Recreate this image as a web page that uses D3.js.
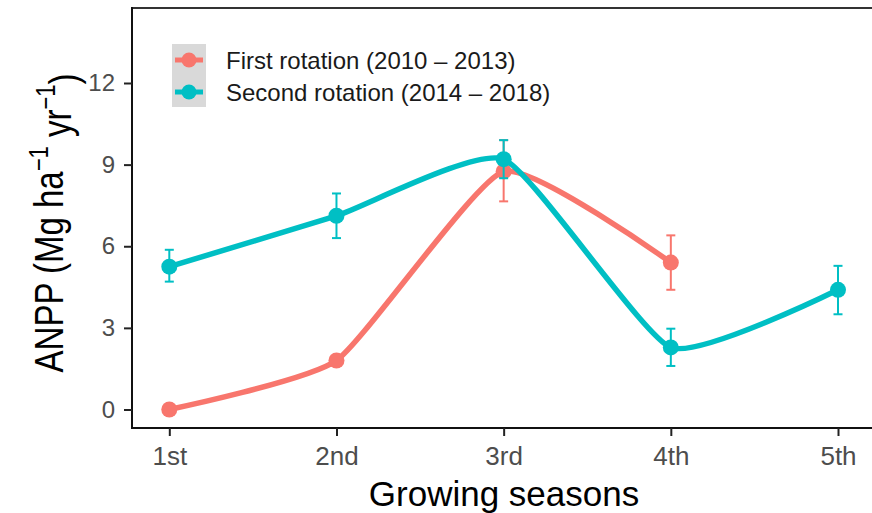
<!DOCTYPE html>
<html>
<head>
<meta charset="utf-8">
<script src="https://cdn.jsdelivr.net/npm/d3@7"></script>
<style>
  body { margin: 0; background: #ffffff; }
  svg { font-family: "Liberation Sans", Arial, sans-serif; }
</style>
</head>
<body>
<div id="chart"></div>
<script>
// the data
const seasons = ["1st", "2nd", "3rd", "4th", "5th"];

const firstMean = [0, 1.8, 8.75, 5.4];
const firstLo   = [0, 1.65, 7.65, 4.4];
const firstHi   = [0, 1.95, 9.9, 6.4];

const secondMean = [5.25, 7.12, 9.2, 2.28, 4.4];
const secondLo   = [4.7, 6.3, 8.5, 1.6, 3.5];
const secondHi   = [5.87, 7.94, 9.9, 2.97, 5.28];

const legendLabels = ["First rotation (2010 \u2013 2013)", "Second rotation (2014 \u2013 2018)"];
const colours = ["#F8766D", "#00BFC4"];

const W = 872, H = 513;

const svg = d3.select("#chart").append("svg")
              .attr("width", W)
              .attr("height", H);

const x = d3.scaleLinear().domain([1, 5]).range([169.3, 838]);
const y = d3.scaleLinear().domain([0, 12]).range([409.5, 83]);

const axisX0 = 132, axisY0 = 428, panelTop = 8;

// panel top border + axis lines
svg.append("line")
    .attr("x1", axisX0).attr("x2", W)
    .attr("y1", panelTop).attr("y2", panelTop)
    .attr("stroke", "#333").attr("stroke-width", 2);

svg.append("line")
    .attr("x1", axisX0).attr("x2", axisX0)
    .attr("y1", panelTop - 1).attr("y2", axisY0 + 1)
    .attr("stroke", "#111").attr("stroke-width", 2);

svg.append("line")
    .attr("x1", axisX0 - 1).attr("x2", W)
    .attr("y1", axisY0).attr("y2", axisY0)
    .attr("stroke", "#111").attr("stroke-width", 2);

// y axis
const yAxis = svg.append("g")
    .attr("transform", `translate(${axisX0},0)`)
    .call(d3.axisLeft(y).tickValues([0, 3, 6, 9, 12]).tickSize(8).tickPadding(9));
yAxis.select(".domain").remove();
yAxis.selectAll(".tick line").attr("stroke", "#222").attr("stroke-width", 2);
yAxis.selectAll(".tick text")
    .attr("fill", "#4D4D4D")
    .style("font-size", "24px");

// x axis
const xAxis = svg.append("g")
    .attr("transform", `translate(0,${axisY0})`)
    .call(d3.axisBottom(x).tickValues([1, 2, 3, 4, 5])
            .tickFormat((d, i) => seasons[i])
            .tickSize(8).tickPadding(11));
xAxis.select(".domain").remove();
xAxis.selectAll(".tick line").attr("stroke", "#222").attr("stroke-width", 2);
xAxis.selectAll(".tick text")
    .attr("fill", "#4D4D4D")
    .style("font-size", "26px");

// axis titles
svg.append("text")
    .attr("x", 504)
    .attr("y", 506)
    .attr("text-anchor", "middle")
    .attr("fill", "#000")
    .style("font-size", "35px")
    .text("Growing seasons");

const yTitle = svg.append("text")
    .attr("transform", "translate(63,223) rotate(-90) scale(1,1.25)")
    .attr("text-anchor", "middle")
    .attr("fill", "#000")
    .style("font-size", "33px");
yTitle.append("tspan").text("ANPP (Mg ha");
yTitle.append("tspan").attr("dy", "-0.55em").style("font-size", "22px").text("\u22121");
yTitle.append("tspan").attr("dy", "0.55em").text(" yr");
yTitle.append("tspan").attr("dy", "-0.55em").style("font-size", "22px").text("\u22121");
yTitle.append("tspan").attr("dy", "0.55em").text(")");

// build series
const series = [
  { mean: firstMean, lo: firstLo, hi: firstHi, colour: colours[0] },
  { mean: secondMean, lo: secondLo, hi: secondHi, colour: colours[1] }
].map(s => ({
  colour: s.colour,
  pts: s.mean.map((m, i) => ({ s: i + 1, m: m, lo: s.lo[i], hi: s.hi[i] }))
}));

const line = d3.line()
    .x(d => x(d.s))
    .y(d => y(d.m))
    .curve(d3.curveCardinal.tension(0.5));

const plot = svg.append("g");

series.forEach(ser => {
  const g = plot.append("g");

  g.append("path")
      .datum(ser.pts)
      .attr("d", line)
      .attr("fill", "none")
      .attr("stroke", ser.colour)
      .attr("stroke-width", 5.5)
      .attr("stroke-linecap", "round");

  const eb = g.selectAll(".eb")
      .data(ser.pts.filter(d => d.hi > d.lo))
      .join("g")
      .attr("class", "eb");
  eb.append("line")
      .attr("x1", d => x(d.s)).attr("x2", d => x(d.s))
      .attr("y1", d => y(d.lo)).attr("y2", d => y(d.hi))
      .attr("stroke", ser.colour).attr("stroke-width", 2);
  eb.append("line")
      .attr("x1", d => x(d.s) - 4.5).attr("x2", d => x(d.s) + 4.5)
      .attr("y1", d => y(d.lo)).attr("y2", d => y(d.lo))
      .attr("stroke", ser.colour).attr("stroke-width", 2);
  eb.append("line")
      .attr("x1", d => x(d.s) - 4.5).attr("x2", d => x(d.s) + 4.5)
      .attr("y1", d => y(d.hi)).attr("y2", d => y(d.hi))
      .attr("stroke", ser.colour).attr("stroke-width", 2);

  g.selectAll("circle")
      .data(ser.pts)
      .join("circle")
      .attr("cx", d => x(d.s))
      .attr("cy", d => y(d.m))
      .attr("r", 8)
      .attr("fill", ser.colour);
});

// legend
const legend = svg.append("g");
legend.append("rect")
    .attr("x", 172).attr("y", 44)
    .attr("width", 34).attr("height", 63)
    .attr("fill", "#D9D9D9");

const keyY = [60, 92];
legendLabels.forEach((lab, i) => {
  legend.append("line")
      .attr("x1", 175).attr("x2", 203)
      .attr("y1", keyY[i]).attr("y2", keyY[i])
      .attr("stroke", colours[i]).attr("stroke-width", 5);
  legend.append("circle")
      .attr("cx", 189).attr("cy", keyY[i])
      .attr("r", 7.5)
      .attr("fill", colours[i]);
  legend.append("text")
      .attr("x", 226)
      .attr("y", keyY[i] + 9)
      .attr("fill", "#1A1A1A")
      .style("font-size", "24px")
      .text(lab);
});
</script>
</body>
</html>
